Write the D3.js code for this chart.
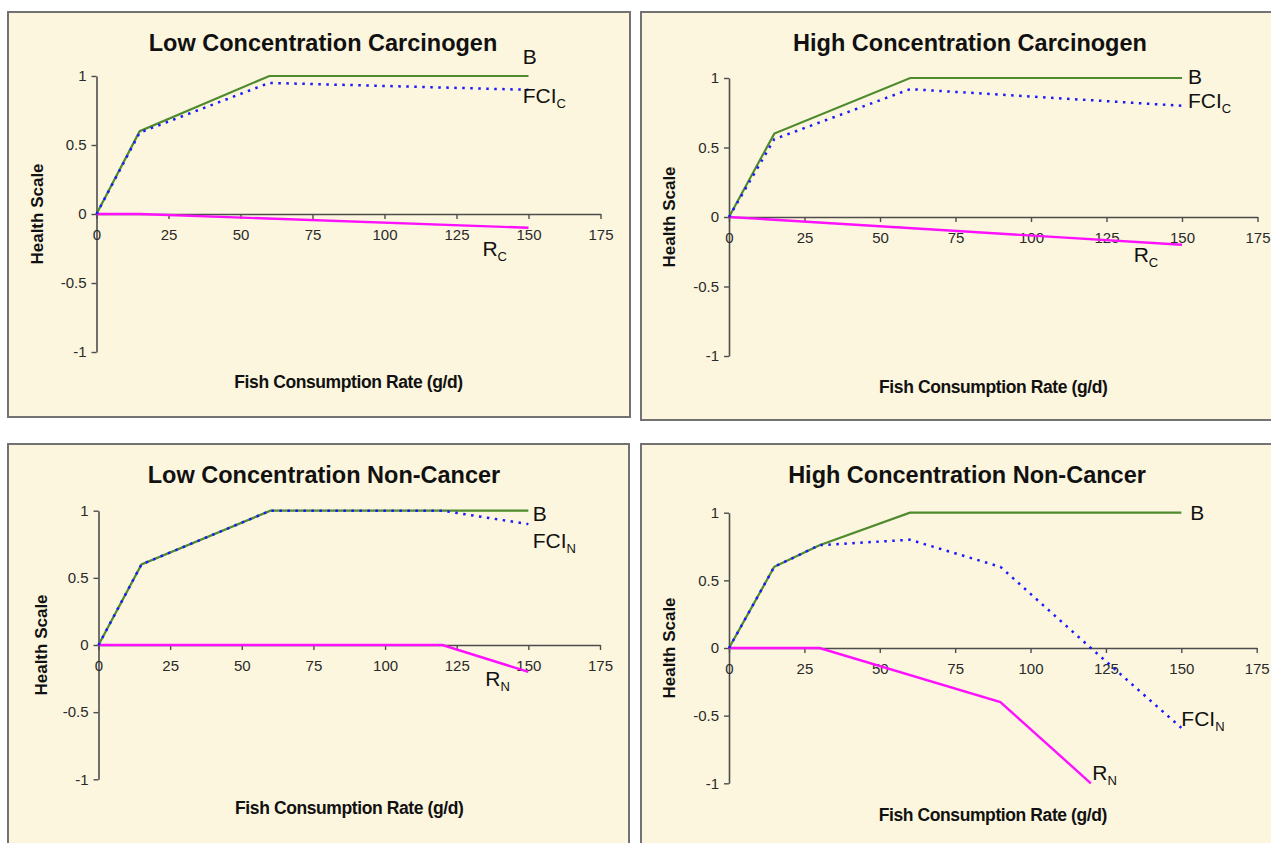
<!DOCTYPE html>
<html>
<head>
<meta charset="utf-8">
<script src="https://cdn.jsdelivr.net/npm/d3@7"></script>
<style>
  body { margin: 0; background: #fff; }
  text { font-family: "Liberation Sans", Arial, sans-serif; }
</style>
</head>
<body>
<div id="chart"></div>
<script>
// values (x = fish consumption g/d, y = health scale)
const xTicks = [0, 25, 50, 75, 100, 125, 150, 175];
const yTicks = [-1, -0.5, 0, 0.5, 1];

const lowCarcB   = [[0, 0], [15, 0.6], [60, 1], [150, 1]];
const lowCarcFCI = [[0, 0], [15, 0.59], [60, 0.95], [150, 0.9]];
const lowCarcR   = [[0, 0], [15, 0], [150, -0.1]];

const highCarcB   = [[0, 0], [15, 0.6], [60, 1], [150, 1]];
const highCarcFCI = [[0, 0], [15, 0.56], [60, 0.92], [150, 0.8]];
const highCarcR   = [[0, 0], [150, -0.2]];

const lowNonB   = [[0, 0], [15, 0.6], [60, 1], [150, 1]];
const lowNonFCI = [[0, 0], [15, 0.6], [60, 1], [120, 1], [150, 0.9]];
const lowNonR   = [[0, 0], [120, 0], [150, -0.2]];

const highNonB   = [[0, 0], [15, 0.6], [30, 0.76], [60, 1], [150, 1]];
const highNonFCI = [[0, 0], [15, 0.6], [30, 0.76], [60, 0.8], [90, 0.6], [120, 0], [150, -0.59]];
const highNonR   = [[0, 0], [30, 0], [90, -0.4], [120, -1]];

const titles = ["Low Concentration Carcinogen", "High Concentration Carcinogen",
                "Low Concentration Non-Cancer", "High Concentration Non-Cancer"];

// series labels, anchored in data units
const lowCarcLabels  = [["B", "", 148, 1.14], ["FCI", "C", 148, 0.86], ["R", "C", 134, -0.25]];
const highCarcLabels = [["B", "", 152, 1.01], ["FCI", "C", 152, 0.84], ["R", "C", 134, -0.27]];
const lowNonLabels   = [["B", "", 151.5, 0.98], ["FCI", "N", 151.5, 0.78], ["R", "N", 135, -0.25]];
const highNonLabels  = [["B", "", 153, 1.0], ["FCI", "N", 150, -0.52], ["R", "N", 120.5, -0.92]];

// panel layout (pixels)
const panels = [
  {box: [8, 12, 622, 405], x: [96.5, 600.5], y: [76, 352], titleY: 43, titleX: 323, yTitleX: 37, xTitleY: 382,
   B: lowCarcB, F: lowCarcFCI, R: lowCarcR, labels: lowCarcLabels},
  {box: [641, 12, 660, 408], x: [729, 1257.5], y: [78, 356], titleY: 43, titleX: 970, yTitleX: 669, xTitleY: 387,
   B: highCarcB, F: highCarcFCI, R: highCarcR, labels: highCarcLabels},
  {box: [8, 444, 621, 420], x: [98.5, 600], y: [510.7, 779.3], titleY: 475, titleX: 324, yTitleX: 41, xTitleY: 808,
   B: lowNonB, F: lowNonFCI, R: lowNonR, labels: lowNonLabels},
  {box: [641, 444, 660, 420], x: [729, 1256.7], y: [512.7, 783.3], titleY: 475, titleX: 967, yTitleX: 669, xTitleY: 815,
   B: highNonB, F: highNonFCI, R: highNonR, labels: highNonLabels}
];

var svg = d3.select("#chart")
  .append("svg")
    .attr("width", 1271)
    .attr("height", 843);

panels.forEach(function(p, i) {
  var g = svg.append("g");

  g.append("rect")
    .attr("x", p.box[0]).attr("y", p.box[1])
    .attr("width", p.box[2]).attr("height", p.box[3])
    .attr("fill", "#fcf6de")
    .attr("stroke", "#727272")
    .attr("stroke-width", 2);

  var x = d3.scaleLinear().domain([0, 175]).range(p.x);
  var y = d3.scaleLinear().domain([1, -1]).range(p.y);

  // Y axis
  var yAxis = g.append("g")
    .attr("transform", "translate(" + p.x[0] + ",0)")
    .call(d3.axisLeft(y).tickValues(yTicks).tickSize(5).tickSizeOuter(0).tickFormat(d => String(d)));

  // X axis at zero
  var xAxis = g.append("g")
    .attr("transform", "translate(0," + y(0) + ")")
    .call(d3.axisBottom(x).tickValues(xTicks).tickSize(5).tickSizeOuter(0));

  [yAxis, xAxis].forEach(function(a) {
    a.select(".domain").attr("stroke", "#4d4d4d").attr("stroke-width", 1.6);
    a.selectAll(".tick line").attr("stroke", "#4d4d4d").attr("stroke-width", 1.4);
    a.selectAll(".tick text")
      .attr("fill", "#2a2a2a")
      .style("font-size", "15px")
      .style("font-family", "'Liberation Sans', Arial, sans-serif");
  });
  yAxis.selectAll(".tick text").attr("x", -10);
  xAxis.selectAll(".tick text").attr("y", 15);

  var line = d3.line().x(d => x(d[0])).y(d => y(d[1]));

  g.append("path").datum(p.R)
    .attr("d", line).attr("fill", "none")
    .attr("stroke", "#ff10ff").attr("stroke-width", 2.4);

  g.append("path").datum(p.B)
    .attr("d", line).attr("fill", "none")
    .attr("stroke", "#4f8a2e").attr("stroke-width", 2.2);

  g.append("path").datum(p.F)
    .attr("d", line).attr("fill", "none")
    .attr("stroke", "#1a1aff").attr("stroke-width", 2.5)
    .attr("stroke-dasharray", "2.5,5.5");

  // titles
  g.append("text")
    .attr("x", p.titleX).attr("y", p.titleY)
    .attr("dy", "0.35em")
    .style("text-anchor", "middle")
    .style("font-size", "23.5px").style("font-weight", "bold")
    .attr("fill", "#111")
    .text(titles[i]);

  g.append("text")
    .attr("transform", "translate(" + p.yTitleX + "," + y(0) + ") rotate(-90)")
    .attr("dy", "0.35em")
    .style("text-anchor", "middle")
    .style("font-size", "17px").style("font-weight", "bold")
    .attr("fill", "#111")
    .text("Health Scale");

  g.append("text")
    .attr("x", (p.x[0] + p.x[1]) / 2).attr("y", p.xTitleY)
    .attr("dy", "0.35em")
    .style("text-anchor", "middle")
    .style("font-size", "17.5px").style("font-weight", "bold")
    .style("letter-spacing", "-0.4px")
    .attr("fill", "#111")
    .text("Fish Consumption Rate (g/d)");

  // series labels
  p.labels.forEach(function(l) {
    var t = g.append("text")
      .attr("x", x(l[2])).attr("y", y(l[3]))
      .attr("dy", "0.35em")
      .style("font-size", "21px")
      .attr("fill", "#111")
      .text(l[0]);
    if (l[1]) {
      t.append("tspan")
        .attr("dy", 5)
        .style("font-size", "13px")
        .text(l[1]);
    }
  });
});
</script>
</body>
</html>
